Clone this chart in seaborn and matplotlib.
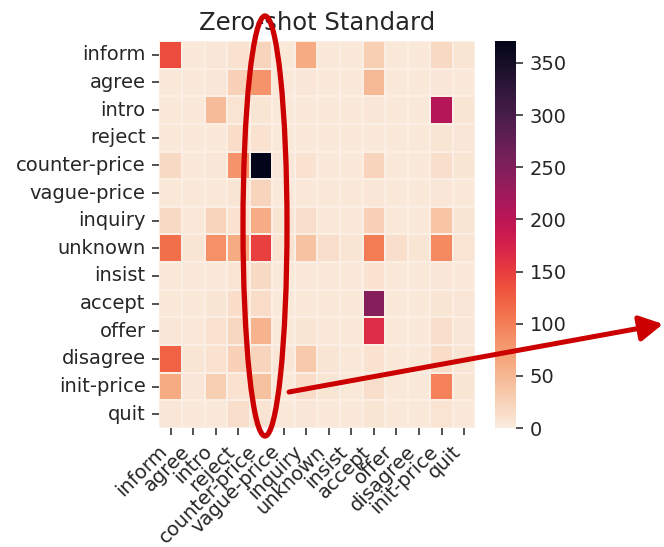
import numpy as np
import pandas as pd
import seaborn as sns
import matplotlib
matplotlib.use("Agg")
import matplotlib.pyplot as plt
from matplotlib.patches import Ellipse, FancyArrowPatch, ArrowStyle
from matplotlib.transforms import IdentityTransform

labels = ["inform", "agree", "intro", "reject", "counter-price", "vague-price",
          "inquiry", "unknown", "insist", "accept", "offer", "disagree",
          "init-price", "quit"]

# rows: true label, columns: predicted label
row_inform        = [138, 4, 5, 10, 22, 4, 62, 4, 4, 28, 4, 4, 18, 6]
row_agree         = [4, 4, 5, 25, 82, 4, 5, 4, 4, 48, 4, 4, 5, 4]
row_intro         = [4, 4, 45, 8, 6, 4, 4, 4, 4, 5, 4, 4, 205, 6]
row_reject        = [4, 4, 4, 14, 10, 4, 4, 4, 4, 4, 4, 4, 6, 5]
row_counter_price = [18, 4, 5, 82, 371, 5, 10, 4, 4, 22, 4, 4, 12, 6]
row_vague_price   = [4, 4, 4, 6, 22, 4, 4, 4, 4, 5, 4, 4, 5, 4]
row_inquiry       = [18, 4, 22, 10, 60, 6, 12, 4, 4, 25, 4, 4, 38, 6]
row_unknown       = [112, 6, 85, 62, 148, 10, 40, 12, 6, 102, 12, 6, 90, 8]
row_insist        = [4, 4, 4, 8, 18, 4, 4, 4, 4, 10, 4, 4, 5, 4]
row_accept        = [4, 4, 6, 14, 14, 4, 4, 4, 4, 245, 4, 4, 6, 5]
row_offer         = [5, 4, 10, 20, 55, 4, 6, 4, 4, 165, 4, 4, 12, 5]
row_disagree      = [122, 6, 10, 25, 22, 5, 32, 6, 4, 10, 4, 4, 14, 6]
row_init_price    = [62, 5, 28, 10, 42, 4, 14, 6, 4, 12, 4, 4, 98, 6]
row_quit          = [5, 4, 4, 12, 8, 4, 5, 4, 4, 6, 4, 4, 8, 4]

matrix = [row_inform, row_agree, row_intro, row_reject, row_counter_price,
          row_vague_price, row_inquiry, row_unknown, row_insist, row_accept,
          row_offer, row_disagree, row_init_price, row_quit]

df = pd.DataFrame(matrix, index=labels, columns=labels)

W, H = 664, 547
fig = plt.figure(figsize=(W / 100, H / 100), dpi=100)
plt.rcParams['font.family'] = ['DejaVu Sans']

ax = fig.add_axes([159.4 / W, (H - 428) / H, 316 / W, 387 / H])
cax = fig.add_axes([495 / W, (H - 428) / H, 21 / W, 387 / H])

sns.heatmap(df, ax=ax, cbar_ax=cax, cmap="rocket_r", vmin=0, vmax=371,
            xticklabels=labels, yticklabels=labels,
            linewidths=0.25, linecolor="#fbeee4")

ax.set_title("Zero-shot Standard", fontsize=17.5, color="#262626", pad=8)
ax.tick_params(axis="both", labelsize=14, length=5, width=1.2,
               color="#333333", labelcolor="#262626", pad=5)
ax.set_xticklabels(labels, rotation=45, ha="right", rotation_mode="default")
ax.set_yticklabels(labels, rotation=0)

cax.tick_params(labelsize=14, length=5, width=1.2, color="#333333",
                labelcolor="#262626", pad=5)
cax.set_yticks([0, 50, 100, 150, 200, 250, 300, 350])

# red annotation: ellipse around the counter-price column and arrow
red = "#cc0000"
ell = Ellipse((265, H - 226), 44, 420, fill=False, edgecolor=red,
              linewidth=3.8, transform=IdentityTransform(), zorder=10)
fig.add_artist(ell)
arrow = FancyArrowPatch((289, H - 392), (663, H - 324),
                        transform=IdentityTransform(),
                        arrowstyle=ArrowStyle("-|>", head_length=1.0, head_width=0.55),
                        mutation_scale=14, color=red, linewidth=3.6,
                        shrinkA=0, shrinkB=0, zorder=10)
fig.add_artist(arrow)

fig.savefig("out.png", dpi=100)
